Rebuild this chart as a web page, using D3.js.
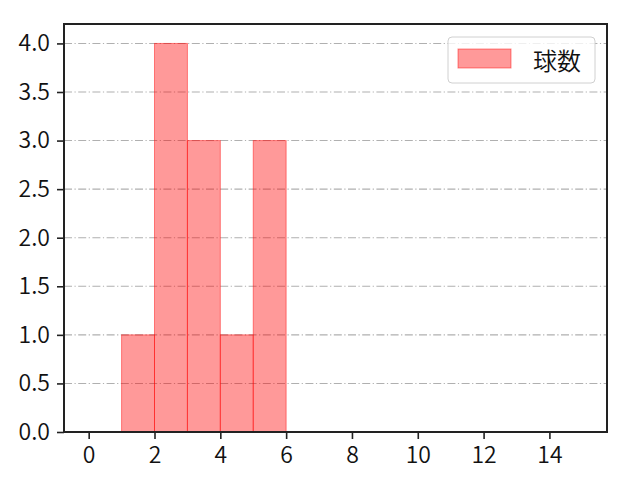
<!DOCTYPE html>
<html><head><meta charset="utf-8">
<script src="https://cdn.jsdelivr.net/npm/d3@7"></script>
<style>body{margin:0;background:#fff}svg{display:block}</style>
</head><body>
<svg id="c" width="640" height="480"></svg>
<script>
const binStarts = [1, 2, 3, 4, 5];
const binWidth = 1;
const counts = [1, 4, 3, 1, 3];
const xTicks = [0, 2, 4, 6, 8, 10, 12, 14];
const yTicks = [0, 0.5, 1.0, 1.5, 2.0, 2.5, 3.0, 3.5, 4.0];
const seriesName = "球数";

const svg = d3.select("#c");
const L = 64, R = 607, T = 24, B = 432;
const font = "'Noto Sans CJK JP', 'Noto Sans', sans-serif";
const x = d3.scaleLinear().domain([-0.75, 15.75]).range([L, R]);
const y = d3.scaleLinear().domain([0, 4.2]).range([B, T]);

// grid
svg.append("g").selectAll("line").data(yTicks).join("line")
  .attr("x1", L).attr("x2", R)
  .attr("y1", d => y(d)).attr("y2", d => y(d))
  .attr("stroke", "#b0b0b0").attr("stroke-width", 1.1)
  .attr("stroke-dasharray", "8,2.5,1.2,2.5");

// bars
svg.append("g").selectAll("rect").data(counts).join("rect")
  .attr("x", (d, i) => x(binStarts[i]))
  .attr("width", (d, i) => x(binStarts[i] + binWidth) - x(binStarts[i]))
  .attr("y", d => y(d))
  .attr("height", d => y(0) - y(d))
  .attr("fill", "rgba(255,0,0,0.4)")
  .attr("stroke", "rgba(255,0,0,0.45)")
  .attr("stroke-width", 1);

// axes
const xAxis = d3.axisBottom(x).tickValues(xTicks).tickFormat(d3.format("d")).tickSizeOuter(0).tickSize(7).tickPadding(8);
const yAxis = d3.axisLeft(y).tickValues(yTicks).tickFormat(d3.format(".1f")).tickSizeOuter(0).tickSize(7).tickPadding(7);
const gx = svg.append("g").attr("transform", `translate(0,${B})`).call(xAxis);
const gy = svg.append("g").attr("transform", `translate(${L},0)`).call(yAxis);
[gx, gy].forEach(g => {
  g.select(".domain").remove();
  g.selectAll(".tick line").attr("stroke", "#222").attr("stroke-width", 1.6);
  g.selectAll(".tick text").attr("fill", "#111").style("font-family", font).style("font-size", "23px").style("font-weight", 350);
});

// frame
svg.append("rect").attr("x", L).attr("y", T).attr("width", R - L).attr("height", B - T)
  .attr("fill", "none").attr("stroke", "#222").attr("stroke-width", 2);

// legend
const lg = svg.append("g");
lg.append("rect").attr("x", 448).attr("y", 37).attr("width", 147).attr("height", 46)
  .attr("rx", 4).attr("fill", "rgba(255,255,255,0.8)").attr("stroke", "#d0d0d0").attr("stroke-width", 1);
lg.append("rect").attr("x", 458).attr("y", 49).attr("width", 53).attr("height", 19)
  .attr("fill", "rgba(255,0,0,0.4)").attr("stroke", "rgba(255,0,0,0.45)");
lg.append("text").attr("x", 533).attr("y", 59).attr("dominant-baseline", "central")
  .style("font-family", font).style("font-size", "24px").style("font-weight", 350).attr("fill", "#111").text(seriesName);
</script>
</body></html>
